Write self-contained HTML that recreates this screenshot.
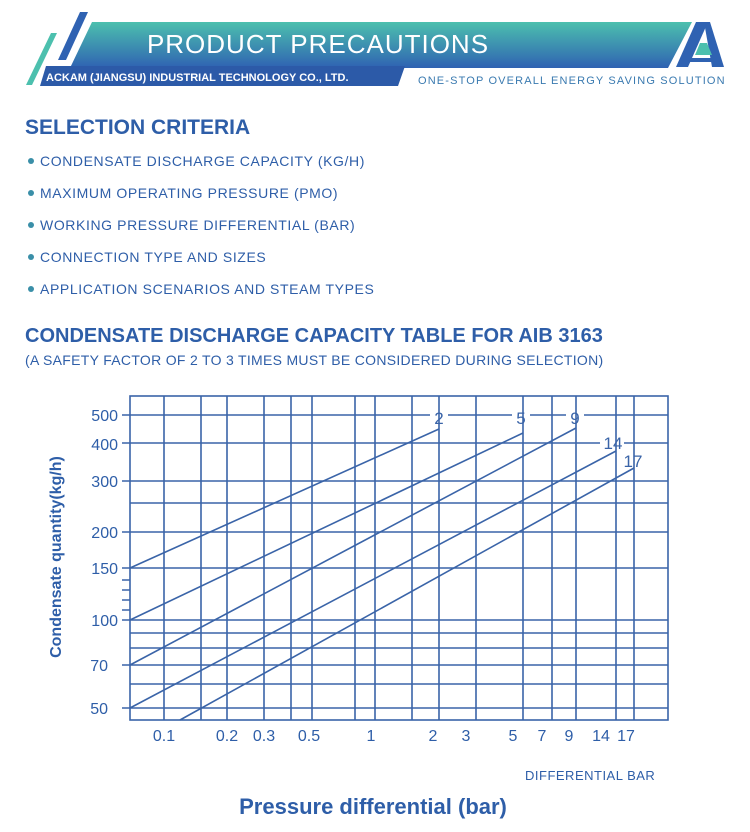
<!DOCTYPE html>
<html><head><meta charset="utf-8"><style>
body{margin:0;background:#fff;width:750px;height:832px;overflow:hidden}
svg{display:block}
text{font-family:"Liberation Sans","DejaVu Sans",sans-serif}
</style></head><body>
<svg width="750" height="832" viewBox="0 0 750 832" xmlns="http://www.w3.org/2000/svg">
<defs>
<linearGradient id="g1" x1="0" y1="0" x2="0" y2="1">
<stop offset="0" stop-color="#4cc0ae"/><stop offset="1" stop-color="#2f62b2"/>
</linearGradient>
</defs>
<polygon points="80,12 88,12 66,60 58,60" fill="#2f62b2"/>
<polygon points="51,33 57,33 32,85 26,85" fill="#4cc0ae"/>
<polygon points="92,22 692,22 668,68 70,68" fill="url(#g1)"/>
<polygon points="46,66 405,66 398,86 40,86" fill="#2c5aa8"/>
<text x="318" y="53" font-size="26" fill="#fff" text-anchor="middle" letter-spacing="1">PRODUCT PRECAUTIONS</text>
<text x="46" y="81" font-size="11" font-weight="bold" fill="#fff">ACKAM (JIANGSU) INDUSTRIAL TECHNOLOGY CO., LTD.</text>
<text x="418" y="84" font-size="11" fill="#3a7ab0" letter-spacing="1.15">ONE-STOP OVERALL ENERGY SAVING SOLUTION</text>
<polygon points="696,22 708,22 688,67 676,67" fill="#2f62b2"/>
<polygon points="704,22 710,22 724,67 712,67" fill="#2f62b2"/>
<polygon points="700,43 707,43 712,55 695,55" fill="#4cc0ae"/>
<rect x="686" y="58" width="30" height="4" fill="#2f62b2"/>
<g fill="#2e5ea8">
<text x="25" y="134" font-size="21" font-weight="bold">SELECTION CRITERIA</text>
<g font-size="14" letter-spacing="0.6">
<text x="40" y="166">CONDENSATE DISCHARGE CAPACITY (KG/H)</text>
<text x="40" y="198">MAXIMUM OPERATING PRESSURE (PMO)</text>
<text x="40" y="230">WORKING PRESSURE DIFFERENTIAL (BAR)</text>
<text x="40" y="262">CONNECTION TYPE AND SIZES</text>
<text x="40" y="294">APPLICATION SCENARIOS AND STEAM TYPES</text>
</g>
<text x="25" y="342" font-size="20" font-weight="bold">CONDENSATE DISCHARGE CAPACITY TABLE FOR AIB 3163</text>
<text x="25" y="365" font-size="14" letter-spacing="0.3">(A SAFETY FACTOR OF 2 TO 3 TIMES MUST BE CONSIDERED DURING SELECTION)</text>
</g>
<g fill="#3a8fa8">
<circle cx="31" cy="161" r="3"/><circle cx="31" cy="193" r="3"/><circle cx="31" cy="225" r="3"/><circle cx="31" cy="257" r="3"/><circle cx="31" cy="289" r="3"/>
</g>
<g stroke="#3a64a8" stroke-width="1.6" fill="none">
<rect x="130" y="396" width="538" height="324"/>
<path d="M164 396V720M201 396V720M227 396V720M264 396V720M291 396V720M312 396V720M355 396V720M375 396V720M412 396V720M439 396V720M476 396V720M523 396V720M552 396V720M576 396V720M616 396V720M634 396V720"/>
<path d="M122 415H430M448 415H512M530 415H566M584 415H668"/>
<path d="M122 443H600M624 443H668"/>
<path d="M122 481H668M130 503H668M122 532H668M122 568H668M122 620H668M130 633H668M130 648H668M122 665H668M130 684H668M122 708H668"/>
<path d="M122 580H130M122 590H130M122 600H130M122 610H130"/>
<path d="M130 568L439 429M130 620L523 433M130 665L576 428M130 708L616 451M180 720L634 468"/>
</g>
<g fill="#3a64a8" font-size="17">
<text x="439" y="424" text-anchor="middle">2</text>
<text x="521" y="424" text-anchor="middle">5</text>
<text x="575" y="424" text-anchor="middle">9</text>
<text x="613" y="449" text-anchor="middle">14</text>
<text x="633" y="467" text-anchor="middle">17</text>
</g>
<g fill="#2e5ea8" font-size="16" text-anchor="end">
<text x="118" y="421">500</text><text x="118" y="450">400</text><text x="118" y="487">300</text>
<text x="118" y="538">200</text><text x="118" y="574">150</text><text x="118" y="626">100</text>
<text x="108" y="671">70</text><text x="108" y="714">50</text>
</g>
<g fill="#2e5ea8" font-size="16" text-anchor="middle">
<text x="164" y="741">0.1</text><text x="227" y="741">0.2</text><text x="264" y="741">0.3</text>
<text x="309" y="741">0.5</text><text x="371" y="741">1</text><text x="433" y="741">2</text>
<text x="466" y="741">3</text><text x="513" y="741">5</text><text x="542" y="741">7</text>
<text x="569" y="741">9</text><text x="601" y="741">14</text><text x="626" y="741">17</text>
</g>
<text transform="translate(61,557) rotate(-90)" text-anchor="middle" font-size="16" font-weight="bold" fill="#2e5ea8">Condensate quantity(kg/h)</text>
<text x="525" y="780" font-size="13" fill="#2e5ea8" letter-spacing="0.5">DIFFERENTIAL  BAR</text>
<text x="373" y="814" text-anchor="middle" font-size="22" font-weight="bold" fill="#2e5ea8">Pressure differential (bar)</text>
</svg>
</body></html>
